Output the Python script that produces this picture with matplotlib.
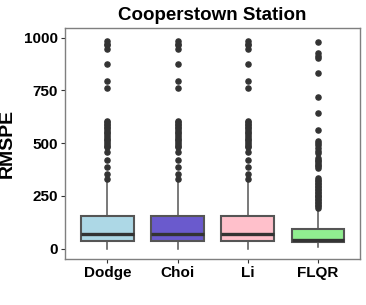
import numpy as np
import matplotlib
matplotlib.use("Agg")
import matplotlib.pyplot as plt

plt.rcParams['font.family'] = ['Liberation Sans', 'DejaVu Sans']

# data
methods = ['Dodge', 'Choi', 'Li', 'FLQR']
colors = ['#ADD8E6', '#6A5ACD', '#FFC0CB', '#90EE90']
q1 = [39, 39, 39, 32]
median = [71, 71, 71, 43]
q3 = [153, 153, 153, 95]
whis_lo = [1, 1, 1, 8]
whis_hi = [322, 322, 322, 185]

base_out = [983, 971, 963, 947, 876, 794, 759, 604, 598, 592, 585, 578, 570,
            562, 555, 547, 538, 530, 522, 513, 505, 497, 489, 481, 457,
            422, 389, 356, 330]
flqr_out = [980, 925, 912, 903, 833, 720, 644, 564, 509, 500, 490, 475, 465,
            455, 430, 422, 414, 406, 398, 390, 383, 335, 328, 320, 313, 306,
            299, 292, 285, 278, 271, 264, 257, 250, 243, 236, 229, 222, 215,
            208, 201, 195]
outliers = [base_out, base_out, base_out, flqr_out]

stats = []
for i, m in enumerate(methods):
    stats.append(dict(label=m, q1=q1[i], med=median[i], q3=q3[i],
                      whislo=whis_lo[i], whishi=whis_hi[i], fliers=outliers[i]))

fig = plt.figure(figsize=(3.66, 3.05), dpi=100)
ax = fig.add_axes([0.178, 0.151, 0.806, 0.757])

edge = '#555555'
bp = ax.bxp(stats, positions=np.arange(1, 5), widths=0.75, patch_artist=True,
            showcaps=False,
            boxprops=dict(edgecolor=edge, linewidth=1.5),
            medianprops=dict(color='#333333', linewidth=2.4),
            whiskerprops=dict(color=edge, linewidth=1.1),
            flierprops=dict(marker='o', markerfacecolor='#333333',
                            markeredgecolor='#333333', markersize=3.7))
for patch, c in zip(bp['boxes'], colors):
    patch.set_facecolor(c)

ax.set_xlim(0.4, 4.6)
ax.set_ylim(-48, 1045)
ax.set_yticks([0, 250, 500, 750, 1000])
ax.set_xticks(np.arange(1, 5))
ax.set_xticklabels(methods)

for s in ax.spines.values():
    s.set_color('#7f7f7f')
    s.set_linewidth(1.0)
ax.tick_params(axis='both', length=3, color='#333333', width=0.8,
               labelsize=11, labelcolor='black', pad=2)
for lab in ax.get_xticklabels() + ax.get_yticklabels():
    lab.set_fontweight('bold')

ax.set_ylabel('RMSPE', fontsize=14, fontweight='bold', labelpad=6)
ax.set_title('Cooperstown Station', fontsize=13.5, fontweight='bold', pad=6)

fig.savefig('out.png', dpi=100)
